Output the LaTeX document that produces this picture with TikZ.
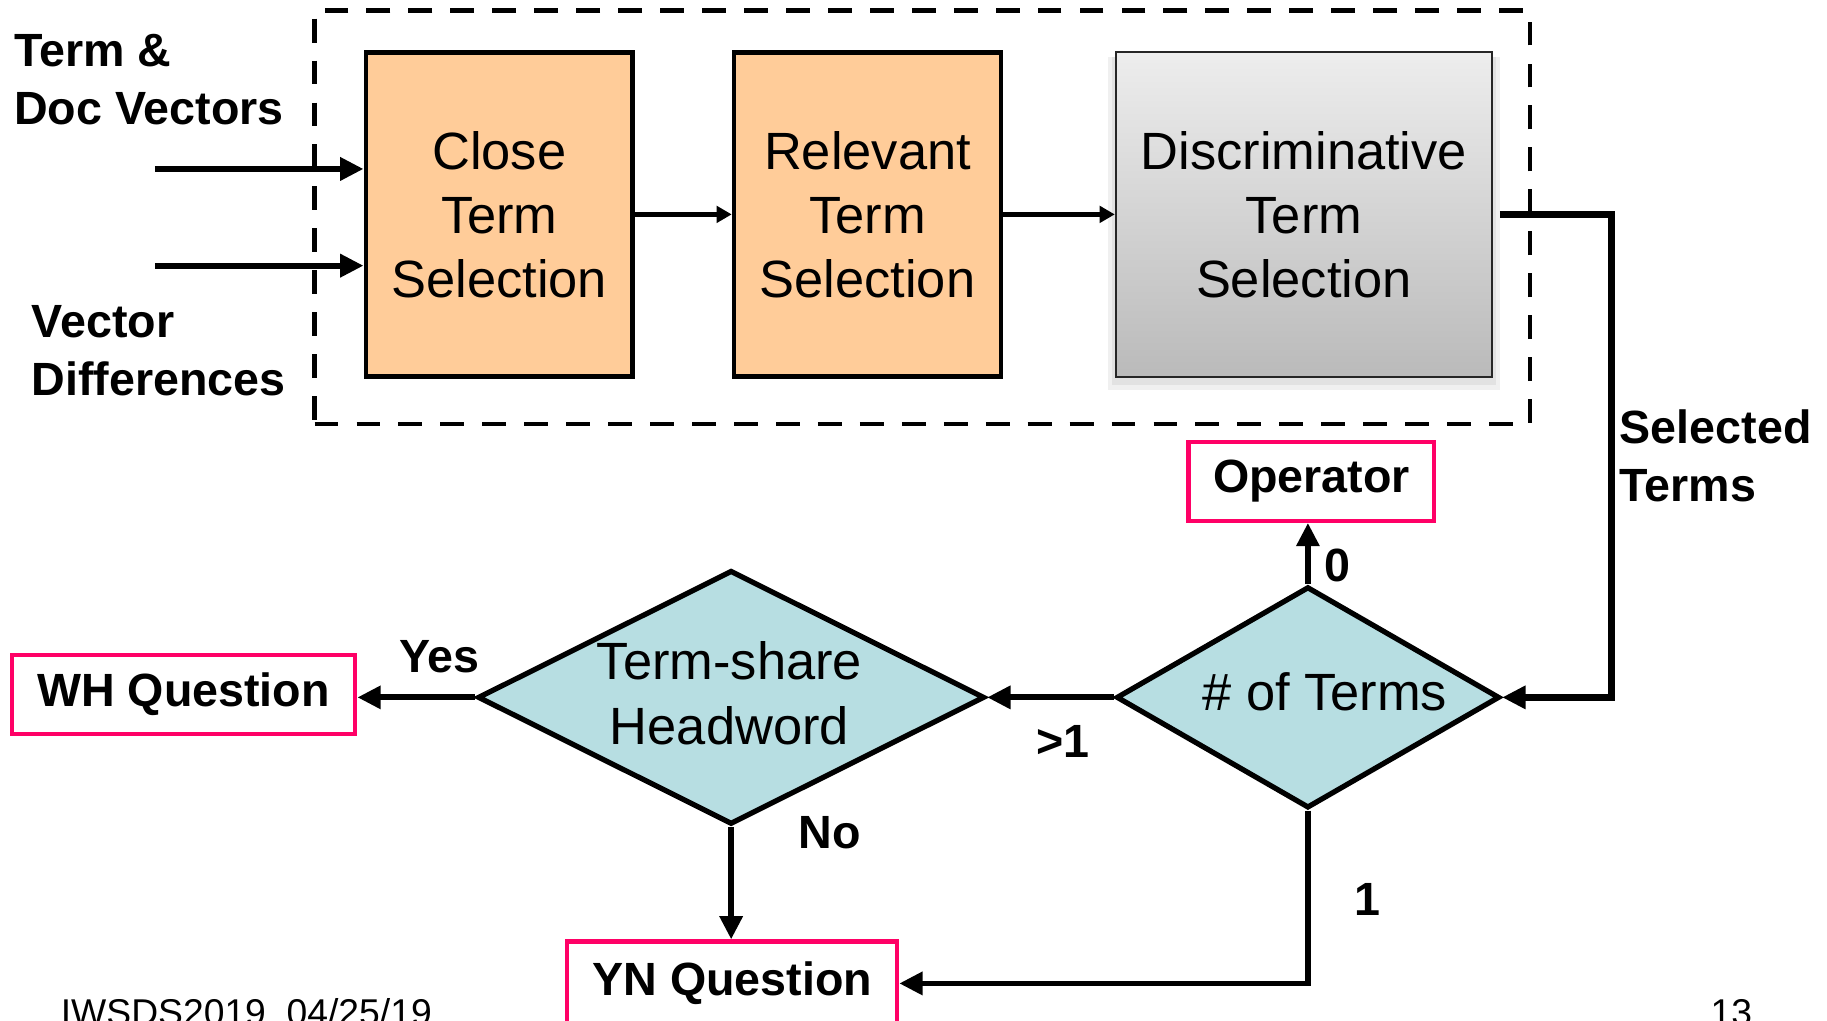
\documentclass[tikz,border=0pt]{standalone}
\usepackage{fontspec}
\setmainfont{Liberation Sans}
\usetikzlibrary{arrows.meta,shapes.geometric,calc}
\definecolor{peach}{HTML}{FFCC99}
\definecolor{tealfill}{HTML}{B7DEE2}
\definecolor{pinkr}{HTML}{FF0066}
\begin{document}
\begin{tikzpicture}[x=1pt,y=-1pt,
  reg/.style={font=\fontsize{45}{55}\selectfont},
  bld/.style={font=\fontsize{40}{50}\selectfont\bfseries},
  proc/.style={draw, line width=4pt, fill=peach, minimum width=229pt, minimum height=278pt, inner sep=0pt, align=center, reg},
  dia/.style={diamond, draw, line width=4.5pt, fill=tealfill, inner sep=0pt},
  outbox/.style={draw=pinkr, line width=3.5pt, fill=white, minimum height=68pt, inner sep=0pt, bld},
  arr/.style={line width=5pt, -{Triangle[length=20pt,width=19pt]}},
  arrs/.style={line width=4.5pt, -{Triangle[length=13pt,width=14pt]}},
  grpbox/.style={draw, line width=4pt, dash pattern=on 20.5pt off 15.5pt},
  lbl/.style={bld, align=left, anchor=west, inner sep=0pt}
]
\useasboundingbox (0,0) rectangle (1568,876);

% group frame
\node[grpbox, minimum width=1043pt, minimum height=355pt, inner sep=0pt] (grp) at (791.5,186.5) {};

% process boxes
\node[proc] (cts) at (428.5,184) {Close\\Term\\Selection};
\node[proc] (rts) at (744.5,184) {Relevant\\Term\\Selection};
% shadow of discriminative box
\fill[black, opacity=0.06] (951,49) rectangle (1287,335);
\fill[black, opacity=0.06] (954,49) rectangle (1284,330);
\node[draw=black!85, line width=1.5pt, top color=black!7, bottom color=black!27,
      minimum width=323pt, minimum height=279pt, inner sep=0pt, align=center, reg]
      (dts) at (1119,184) {Discriminative\\Term\\Selection};

% input labels
\node[lbl] (lab1) at (12,68) {Term \&\\Doc Vectors};
\node[lbl] (lab2) at (27,301) {Vector\\Differences};
\node[lbl] (lab3) at (1390,391) {Selected\\Terms};

\coordinate (in1) at (133,145);
\coordinate (in2) at (133,228);
\draw[arr] (in1) -- (cts.west |- in1);
\draw[arr] (in2) -- (cts.west |- in2);
\draw[arrs] (cts.east) -- (rts.west);
\draw[arrs] (rts.east) -- (dts.west);

% decisions
\node[dia, minimum width=329pt, minimum height=190pt] (nt) at (1122.5,598.5) {};
\node[reg] (ntt) at (1137,594) {\# of Terms};
\node[dia, minimum width=435pt, minimum height=218pt] (ts) at (627.5,598.5) {};
\node[reg, align=center] (tst) at (626,595) {Term-share\\Headword};

% outcome boxes
\node[outbox, minimum width=211pt] (op) at (1125.5,413) {Operator};
\node[outbox, minimum width=295pt] (wh) at (157.5,596) {WH Question};
\node[outbox, minimum width=283pt, minimum height=72pt] (yn) at (628.5,844) {YN Question};

% connectors
\coordinate (c1) at (1383,598.5);
\draw[arr, line width=6pt] ([xshift=6pt]dts.east) -| (c1) -- (nt.east);
\draw[arr] (nt.north) -- (nt.north |- op.south);
\draw[arr] (nt.west) -- (ts.east);
\draw[arr] (ts.west) -- (ts.west -| wh.east);
\draw[arr] (ts.south) -- (ts.south |- yn.north);
\draw[arr] (nt.south) |- (yn.east);

% branch labels
\node[bld] (l0) at (1148,485) {0};
\node[bld] (lgt) at (912,636) {>1};
\node[bld] (lyes) at (377,564) {Yes};
\node[bld] (lno) at (712,715) {No};
\node[bld] (l1) at (1174,772) {1};

% footer (cut off at the lower edge, as in the reference)
\node[font=\fontsize{32}{38}\selectfont, anchor=base west, inner sep=0pt] (foot) at (52,880) {IWSDS2019\ \ 04/25/19};
\node[font=\fontsize{32}{38}\selectfont, anchor=base west, inner sep=0pt] (pg) at (1468,880) {13};
\end{tikzpicture}
\end{document}
